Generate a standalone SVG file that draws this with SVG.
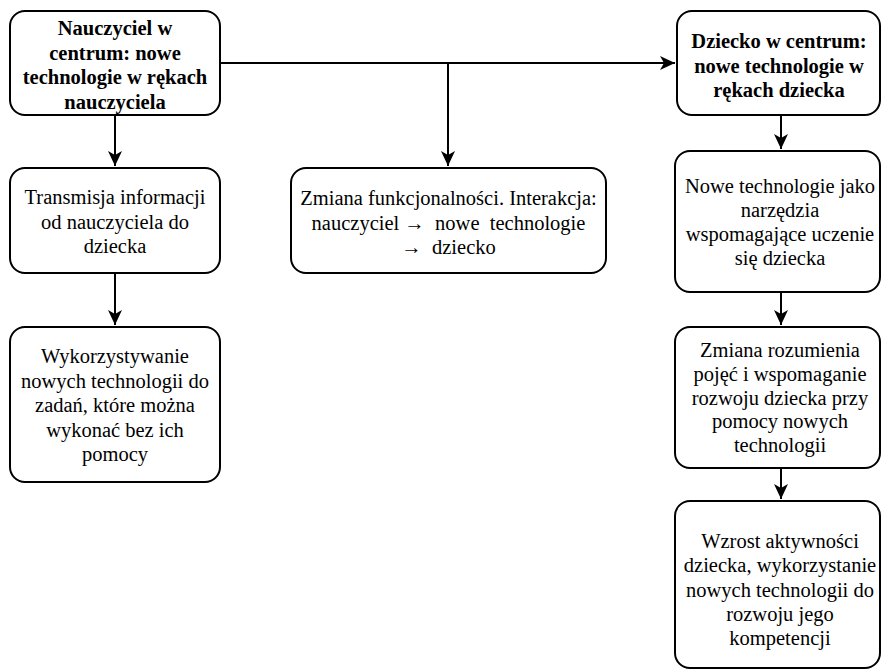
<svg xmlns="http://www.w3.org/2000/svg" width="881" height="672" viewBox="0 0 881 672">
<style>
.box{fill:#fff;stroke:#000;stroke-width:2}
.t{font-family:'Liberation Serif','Times New Roman',serif;font-size:20.5px;fill:#000;text-anchor:middle}
.b{font-weight:bold}
.c{fill:none;stroke:#000;stroke-width:2}
</style>
<defs>
<marker id="ah" markerUnits="userSpaceOnUse" markerWidth="16" markerHeight="16" refX="15" refY="8" orient="auto">
<path d="M0,1 L15,8 L0,15 L4,8 Z" fill="#000"/>
</marker>
</defs>
<rect width="881" height="672" fill="#fff"/>
<g id="connectors">
<path class="c" d="M115,115 V166" marker-end="url(#ah)"/>
<path class="c" d="M115,273 V325" marker-end="url(#ah)"/>
<path class="c" d="M220,63 H675" marker-end="url(#ah)"/>
<path class="c" d="M448,63 V166" marker-end="url(#ah)"/>
<path class="c" d="M781,115 V149" marker-end="url(#ah)"/>
<path class="c" d="M781,292 V325" marker-end="url(#ah)"/>
<path class="c" d="M781,468 V499" marker-end="url(#ah)"/>
</g>
<g id="n1">
<rect class="box" x="10" y="11" width="210" height="104" rx="15"/>
<text class="t b"><tspan x="115" y="35">Nauczyciel w</tspan><tspan x="115" y="59.5">centrum: nowe</tspan><tspan x="115" y="84">technologie w rękach</tspan><tspan x="115" y="108.5">nauczyciela</tspan></text>
</g>
<g id="n2">
<rect class="box" x="677" y="11" width="203" height="104" rx="15"/>
<text class="t b"><tspan x="779" y="48">Dziecko w centrum:</tspan><tspan x="779" y="72.5">nowe technologie w</tspan><tspan x="779" y="97">rękach dziecka</tspan></text>
</g>
<g id="n3">
<rect class="box" x="10" y="168" width="210" height="105" rx="15"/>
<text class="t"><tspan x="115" y="204">Transmisja informacji</tspan><tspan x="115" y="228.5">od nauczyciela do</tspan><tspan x="115" y="253">dziecka</tspan></text>
</g>
<g id="n4">
<rect class="box" x="291" y="168" width="315" height="105" rx="15"/>
<text class="t"><tspan x="448.5" y="205">Zmiana funkcjonalności. Interakcja:</tspan><tspan x="448.5" y="229.5">nauczyciel →&#160; nowe&#160; technologie</tspan><tspan x="448.5" y="254">→&#160; dziecko</tspan></text>
</g>
<g id="n5">
<rect class="box" x="10" y="327" width="210" height="155" rx="15"/>
<text class="t"><tspan x="115" y="363">Wykorzystywanie</tspan><tspan x="115" y="387.5">nowych technologii do</tspan><tspan x="115" y="412">zadań, które można</tspan><tspan x="115" y="436.5">wykonać bez ich</tspan><tspan x="115" y="461">pomocy</tspan></text>
</g>
<g id="n6">
<rect class="box" x="675" y="151" width="205" height="141" rx="15"/>
<text class="t"><tspan x="780" y="193">Nowe technologie jako</tspan><tspan x="780" y="217">narzędzia</tspan><tspan x="780" y="241">wspomagające uczenie</tspan><tspan x="780" y="265">się dziecka</tspan></text>
</g>
<g id="n7">
<rect class="box" x="675" y="327" width="205" height="141" rx="15"/>
<text class="t"><tspan x="780" y="357">Zmiana rozumienia</tspan><tspan x="780" y="380.75">pojęć i wspomaganie</tspan><tspan x="780" y="404.5">rozwoju dziecka przy</tspan><tspan x="780" y="428.25">pomocy nowych</tspan><tspan x="780" y="452">technologii</tspan></text>
</g>
<g id="n8">
<rect class="box" x="675" y="501" width="205" height="167" rx="15"/>
<text class="t"><tspan x="780" y="548">Wzrost aktywności</tspan><tspan x="780" y="572.25">dziecka, wykorzystanie</tspan><tspan x="780" y="596.5">nowych technologii do</tspan><tspan x="780" y="620.75">rozwoju jego</tspan><tspan x="780" y="645">kompetencji</tspan></text>
</g>
</svg>
